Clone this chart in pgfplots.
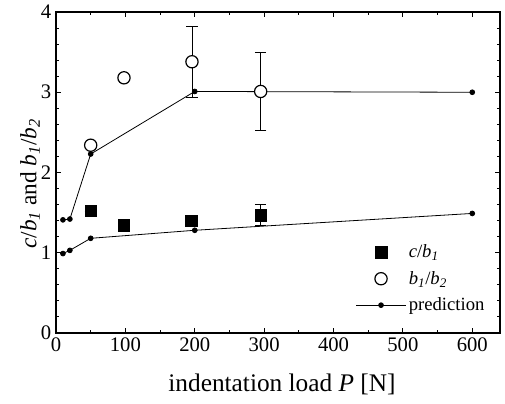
\documentclass[border=0pt]{standalone}
\usepackage{pgfplots}
\pgfplotsset{compat=1.18}
\usepackage{fontspec}
\setmainfont{Liberation Serif}
\begin{document}
\begin{tikzpicture}
\useasboundingbox (-42pt,-52.5pt) rectangle (336.75pt,249.75pt);
\begin{axis}[
  at={(0pt,0pt)}, anchor=south west,
  scale only axis, width=333pt, height=240.75pt,
  xmin=0, xmax=640, ymin=0, ymax=4,
  xtick={0,100,...,600}, minor x tick num=1,
  ytick={0,1,2,3,4}, minor y tick num=4,
  tick align=inside,
  major tick length=3.75pt, minor tick length=2.25pt,
  axis line style={line width=1.1pt},
  every tick/.style={black, line width=0.7pt},
  /pgf/number format/assume math mode=true,
  tick label style={font=\rmfamily\fontsize{15.5}{15.5}\selectfont},
  xlabel={indentation load \textit{P} [N]},
  ylabel={\textit{c}/\textit{b}\textsubscript{\textit{1}} and \textit{b}\textsubscript{\textit{1}}/\textit{b}\textsubscript{\textit{2}}},
  xlabel style={font=\fontsize{19}{19}\selectfont, at={(axis description cs:0.509,-0.16)}, anchor=center},
  ylabel style={font=\fontsize{17.5}{17.5}\selectfont, at={(axis description cs:-0.0586,0.465)}, anchor=center},
  legend style={draw=none, fill=none, at={(0.666,0.046)}, anchor=south west,
    font=\fontsize{14}{14}\selectfont, row sep=4.6pt},
  legend cell align=left,
  legend image code/.code={\draw[mark repeat=2,mark phase=2,#1] plot coordinates {(0cm,0cm) (0.65cm,0cm) (1.3cm,0cm)};},
]
% prediction lines
\addplot[black, line width=0.6pt, mark=*, mark size=1.8pt, forget plot] coordinates {
  (10,1.41) (20,1.42) (50,2.23) (200,3.01) (600,3.0)};
\addplot[black, line width=0.6pt, mark=*, mark size=1.8pt, forget plot] coordinates {
  (10,0.99) (20,1.03) (50,1.18) (200,1.28) (600,1.49)};
% c/b1
\addplot[black, only marks, mark=square*, mark size=4.3pt, forget plot,
  error bars/.cd, y dir=both, y explicit,
  error bar style={line width=0.6pt},
  error mark options={rotate=90, mark size=4.3pt, line width=0.6pt}]
  coordinates {
  (50,1.52) +- (0,0)
  (98,1.34) +- (0,0)
  (195,1.40) +- (0,0)
  (295,1.47) +- (0,0.135)};
% b1/b2
\addplot[black, only marks, mark=*, mark size=4.6pt, mark options={fill=white, draw=black, line width=0.9pt}, forget plot,
  error bars/.cd, y dir=both, y explicit,
  error bar style={line width=0.6pt},
  error mark options={rotate=90, mark size=4.3pt, line width=0.6pt}]
  coordinates {
  (50,2.34) +- (0,0)
  (98,3.18) +- (0,0)
  (196,3.38) +- (0,0.44)
  (295,3.01) +- (0,0.49)};
\addlegendimage{black, only marks, mark=square*, mark size=4.3pt}
\addlegendentry{\textit{c}/\textit{b}\textsubscript{\textit{1}}}
\addlegendimage{black, only marks, mark=*, mark size=4.6pt, mark options={fill=white, draw=black, line width=0.9pt}}
\addlegendentry{\textit{b}\textsubscript{\textit{1}}/\textit{b}\textsubscript{\textit{2}}}
\addlegendimage{black, line width=0.6pt, mark=*, mark size=1.8pt}
\addlegendentry{prediction}
\end{axis}
\end{tikzpicture}
\end{document}
